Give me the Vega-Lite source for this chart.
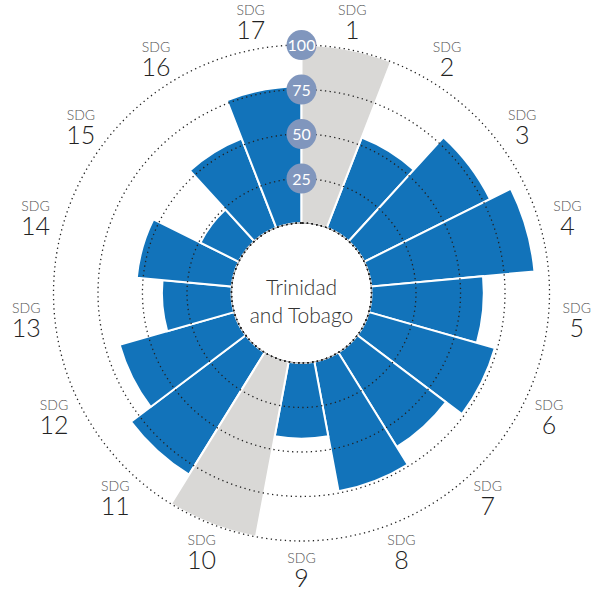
{
  "$schema": "https://vega.github.io/schema/vega-lite/v6.json",
  "width": 597,
  "height": 586,
  "autosize": "none",
  "padding": {"left": 3, "top": 0, "right": 0, "bottom": 4},
  "background": "white",
  "config": {"view": {"stroke": null}},
  "datasets": {
    "sdg": [
      {"sdg": 1, "score": null, "status": "missing"},
      {"sdg": 2, "score": 54.3, "status": "scored"},
      {"sdg": 3, "score": 79, "status": "scored"},
      {"sdg": 4, "score": 92.1, "status": "scored"},
      {"sdg": 5, "score": 63.1, "status": "scored"},
      {"sdg": 6, "score": 73.6, "status": "scored"},
      {"sdg": 7, "score": 62.4, "status": "scored"},
      {"sdg": 8, "score": 74, "status": "scored"},
      {"sdg": 9, "score": 42.6, "status": "scored"},
      {"sdg": 10, "score": null, "status": "missing"},
      {"sdg": 11, "score": 80.7, "status": "scored"},
      {"sdg": 12, "score": 66.9, "status": "scored"},
      {"sdg": 13, "score": 39.1, "status": "scored"},
      {"sdg": 14, "score": 53.6, "status": "scored"},
      {"sdg": 15, "score": 24.1, "status": "scored"},
      {"sdg": 16, "score": 53.7, "status": "scored"},
      {"sdg": 17, "score": 76.8, "status": "scored"}
    ],
    "ticks": [{"tick": 25}, {"tick": 50}, {"tick": 75}, {"tick": 100}]
  },
  "layer": [
    {
      "data": {"name": "sdg"},
      "transform": [{"filter": "datum.status === 'scored'"}],
      "mark": {"type": "arc", "color": "#1273ba", "stroke": "white", "strokeWidth": 2},
      "encoding": {
        "theta": {"field": "sdg", "type": "ordinal", "scale": {"type": "band", "domain": [1,2,3,4,5,6,7,8,9,10,11,12,13,14,15,16,17], "paddingInner": 0, "paddingOuter": 0}},
        "radius": {"field": "score", "type": "quantitative", "scale": {"type": "linear", "domain": [0, 100], "range": [70, 248], "zero": false, "nice": false}},
        "radius2": {"datum": 0}
      }
    },
    {
      "data": {"name": "sdg"},
      "transform": [{"filter": "datum.status === 'missing'"}],
      "mark": {"type": "arc", "color": "#d9d8d6", "stroke": "white", "strokeWidth": 2},
      "encoding": {
        "theta": {"field": "sdg", "type": "ordinal"},
        "radius": {"datum": 100, "type": "quantitative"},
        "radius2": {"datum": 0}
      }
    },
    {
      "data": {"values": [{"edge": 0}]},
      "mark": {"type": "arc", "filled": false, "stroke": "#a8a8a8", "strokeWidth": 0.8, "theta": 0, "theta2": 6.2832},
      "encoding": {
        "radius": {"field": "edge", "type": "quantitative", "stack": null}
      }
    },
    {
      "data": {"name": "ticks"},
      "mark": {"type": "arc", "filled": false, "stroke": "#222", "strokeWidth": 1.3, "strokeDash": [1.3, 3.4], "theta": 0, "theta2": 6.2832},
      "encoding": {
        "radius": {"field": "tick", "type": "quantitative", "stack": null}
      }
    },
    {
      "data": {"name": "ticks"},
      "mark": {"type": "point", "filled": true, "shape": "circle", "size": 900, "color": "#8096bd", "opacity": 1},
      "encoding": {
        "x": {"datum": 0, "type": "quantitative", "scale": {"domain": [-1, 1], "nice": false, "zero": false}, "axis": null},
        "y": {"field": "tick", "type": "quantitative", "scale": {"domain": [-203.9, 125.3], "nice": false, "zero": false}, "axis": null}
      }
    },
    {
      "data": {"name": "ticks"},
      "mark": {"type": "text", "color": "white", "font": "Lato", "fontSize": 16, "baseline": "middle", "align": "center", "dy": 1},
      "encoding": {
        "x": {"datum": 0, "type": "quantitative"},
        "y": {"field": "tick", "type": "quantitative"},
        "text": {"field": "tick", "type": "quantitative"}
      }
    },
    {
      "data": {"name": "sdg"},
      "mark": {"type": "text", "text": "SDG", "color": "#555", "font": "Lato", "fontWeight": 300, "fontSize": 14, "baseline": "middle", "align": "center", "dy": -10},
      "encoding": {
        "theta": {"field": "sdg", "type": "ordinal", "bandPosition": 0.5},
        "radius": {"datum": 116, "type": "quantitative"}
      }
    },
    {
      "data": {"name": "sdg"},
      "mark": {"type": "text", "color": "#222", "font": "Lato", "fontWeight": 300, "fontSize": 25, "baseline": "middle", "align": "center", "dy": 10},
      "encoding": {
        "theta": {"field": "sdg", "type": "ordinal", "bandPosition": 0.5},
        "radius": {"datum": 116, "type": "quantitative"},
        "text": {"field": "sdg", "type": "ordinal"}
      }
    },
    {
      "data": {"values": [{"name": "Trinidad and Tobago"}]},
      "mark": {"type": "text", "text": ["Trinidad", "and Tobago"], "color": "#333", "font": "Lato", "fontWeight": 300, "fontSize": 21, "lineHeight": 28, "baseline": "middle", "align": "center", "dy": -4},
      "encoding": {}
    }
  ]
}
